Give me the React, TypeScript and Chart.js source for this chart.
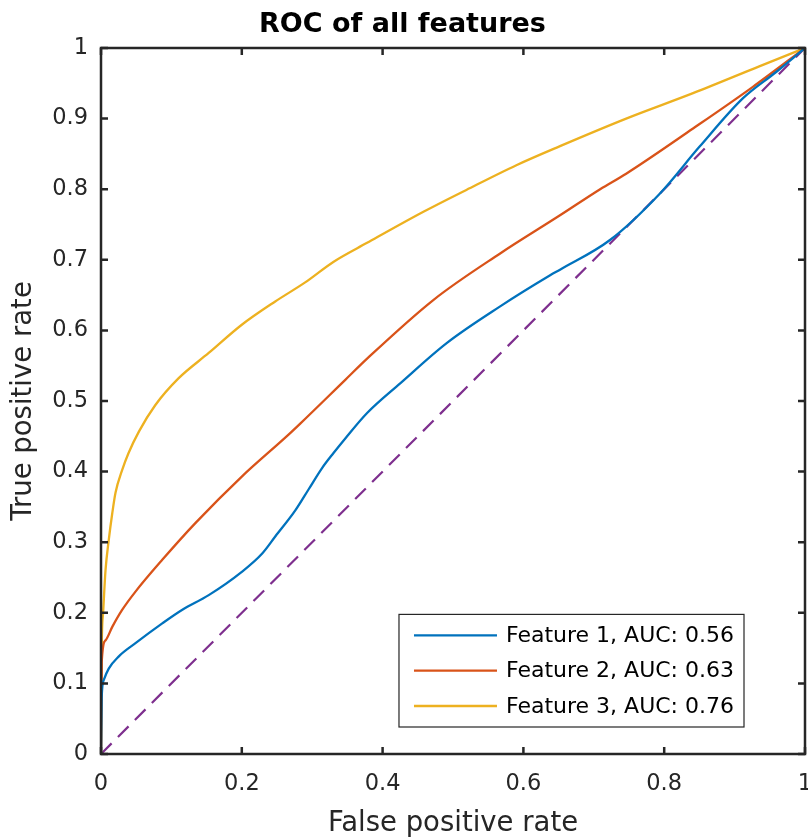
import React, { useEffect, useRef } from "react";
import { Chart, registerables } from "chart.js";

Chart.register(...registerables);

// ROC curve samples
const fpr1 = [0, 0.001, 0.004, 0.011, 0.025, 0.049, 0.087, 0.115, 0.153, 0.2, 0.229, 0.2475, 0.276, 0.295, 0.314, 0.33, 0.347, 0.378, 0.425, 0.491, 0.567, 0.638, 0.652, 0.723, 0.794, 0.85, 0.912, 0.959, 1];
const tpr1 = [0, 0.081, 0.105, 0.121, 0.138, 0.157, 0.185, 0.204, 0.225, 0.258, 0.284, 0.308, 0.345, 0.375, 0.405, 0.426, 0.447, 0.483, 0.525, 0.582, 0.634, 0.678, 0.686, 0.728, 0.794, 0.86, 0.929, 0.966, 1];

const fpr2 = [0, 0.001, 0.0064, 0.016, 0.03, 0.049, 0.087, 0.134, 0.2, 0.266, 0.283, 0.347, 0.378, 0.472, 0.567, 0.652, 0.709, 0.746, 0.841, 0.926, 1];
const tpr2 = [0, 0.13, 0.161, 0.18, 0.204, 0.23, 0.275, 0.327, 0.393, 0.452, 0.468, 0.53, 0.56, 0.643, 0.709, 0.763, 0.8, 0.822, 0.886, 0.945, 1];

const fpr3 = [0, 0.001, 0.003, 0.0064, 0.011, 0.016, 0.0206, 0.03, 0.039, 0.054, 0.077, 0.11, 0.153, 0.2, 0.2475, 0.29, 0.33, 0.378, 0.458, 0.519, 0.59, 0.652, 0.746, 0.841, 0.935, 1];
const tpr3 = [0, 0.15, 0.2, 0.26, 0.303, 0.341, 0.37, 0.402, 0.426, 0.457, 0.494, 0.532, 0.568, 0.608, 0.641, 0.668, 0.697, 0.724, 0.768, 0.799, 0.834, 0.861, 0.9, 0.936, 0.974, 1];

const chanceX = [0, 1];
const chanceY = [0, 1];

const seriesLabels = ["Feature 1, AUC: 0.56", "Feature 2, AUC: 0.63", "Feature 3, AUC: 0.76"];
const seriesColors = ["#0072BD", "#D95319", "#EDB120"];
const chanceColor = "#7E2F8E";

const xTickValues = [0, 0.2, 0.4, 0.6, 0.8, 1];
const yTickValues = [0, 0.1, 0.2, 0.3, 0.4, 0.5, 0.6, 0.7, 0.8, 0.9, 1];

const FONT = "'DejaVu Sans', sans-serif";
const AXIS = "#262626";

const toPoints = (xs: number[], ys: number[]) => xs.map((x, i) => ({ x, y: ys[i] }));

const fmt = (v: number) => String(Math.round(v * 10) / 10);

const boxPlugin = {
  id: "matlabBox",
  afterDatasetsDraw(chart: any) {
    const { ctx, chartArea, scales } = chart;
    const { left, right, top, bottom } = chartArea;
    const xs = scales.x;
    const ys = scales.y;
    ctx.save();
    ctx.strokeStyle = AXIS;
    ctx.lineWidth = 2.5;
    const tl = 7;
    ctx.beginPath();
    xTickValues.forEach((v) => {
      const px = xs.getPixelForValue(v);
      ctx.moveTo(px, bottom);
      ctx.lineTo(px, bottom - tl);
      ctx.moveTo(px, top);
      ctx.lineTo(px, top + tl);
    });
    yTickValues.forEach((v) => {
      const py = ys.getPixelForValue(v);
      ctx.moveTo(left, py);
      ctx.lineTo(left + tl, py);
      ctx.moveTo(right, py);
      ctx.lineTo(right - tl, py);
    });
    ctx.stroke();
    ctx.strokeRect(left, top, right - left, bottom - top);

    // legend inside the axes, bottom-right
    const items = chart.data.datasets.filter((d: any) => d.label);
    ctx.font = `22px ${FONT}`;
    const textW = Math.max(...items.map((d: any) => ctx.measureText(d.label).width));
    const padL = 15, lineLen = 83, gap = 9, padR = 10, rowH = 35.3, padV = 21;
    const boxW = padL + lineLen + gap + textW + padR;
    const boxH = padV * 2 + rowH * (items.length - 1);
    const bx = right - 61 - boxW;
    const by = bottom - 27 - boxH;
    ctx.fillStyle = "#ffffff";
    ctx.fillRect(bx, by, boxW, boxH);
    ctx.lineWidth = 1.2;
    ctx.strokeStyle = AXIS;
    ctx.strokeRect(bx, by, boxW, boxH);
    ctx.textBaseline = "middle";
    ctx.textAlign = "left";
    items.forEach((d: any, i: number) => {
      const cy = by + padV + i * rowH;
      ctx.strokeStyle = d.borderColor;
      ctx.lineWidth = 2.3;
      ctx.beginPath();
      ctx.moveTo(bx + padL, cy);
      ctx.lineTo(bx + padL + lineLen, cy);
      ctx.stroke();
      ctx.fillStyle = "#000000";
      ctx.fillText(d.label, bx + padL + lineLen + gap, cy + 1);
    });
    ctx.restore();
  },
};

export default function App() {
  const ref = useRef<HTMLCanvasElement | null>(null);

  useEffect(() => {
    if (!ref.current) return;
    const curves = [toPoints(fpr1, tpr1), toPoints(fpr2, tpr2), toPoints(fpr3, tpr3)];
    const chart = new Chart(ref.current, {
      type: "line",
      data: {
        datasets: [
          ...curves.map((data, i) => ({
            label: seriesLabels[i],
            data,
            borderColor: seriesColors[i],
            backgroundColor: seriesColors[i],
            borderWidth: 2.3,
            pointRadius: 0,
            cubicInterpolationMode: "monotone",
            fill: false,
          })),
          {
            label: "",
            data: toPoints(chanceX, chanceY),
            borderColor: chanceColor,
            backgroundColor: chanceColor,
            borderWidth: 2.2,
            borderDash: [15, 9],
            pointRadius: 0,
            fill: false,
          },
        ],
      },
      options: {
        animation: false,
        responsive: false,
        devicePixelRatio: 1,
        layout: { padding: { left: 0, right: 25, top: 0, bottom: 0 } },
        plugins: {
          legend: { display: false },
          tooltip: { enabled: false },
          title: {
            display: true,
            text: "ROC of all features",
            color: "#000000",
            font: { family: FONT, size: 27, weight: "bold", lineHeight: 1.2 },
            padding: { top: 9, bottom: 6.6 },
          },
        },
        scales: {
          x: {
            type: "linear",
            min: 0,
            max: 1,
            afterFit: (s: any) => { s.height = 85; },
            afterBuildTicks: (s: any) => { s.ticks = xTickValues.map((value) => ({ value })); },
            grid: { display: false, drawTicks: false },
            border: { display: false },
            ticks: {
              color: AXIS,
              padding: 17,
              maxRotation: 0,
              font: { family: FONT, size: 22.5 },
              callback: (v: any) => fmt(Number(v)),
            },
            title: {
              display: true,
              text: "False positive rate",
              color: AXIS,
              font: { family: FONT, size: 27.5, lineHeight: 1 },
              padding: { top: 0, bottom: 1 },
            },
          },
          y: {
            type: "linear",
            min: 0,
            max: 1,
            afterFit: (s: any) => { s.width = 101; },
            afterBuildTicks: (s: any) => { s.ticks = yTickValues.map((value) => ({ value })); },
            grid: { display: false, drawTicks: false },
            border: { display: false },
            ticks: {
              color: AXIS,
              padding: 13,
              font: { family: FONT, size: 22.5 },
              callback: (v: any) => fmt(Number(v)),
            },
            title: {
              display: true,
              text: "True positive rate",
              color: AXIS,
              font: { family: FONT, size: 27.5, lineHeight: 1 },
              padding: { top: 10, bottom: 0 },
            },
          },
        },
      },
      plugins: [boxPlugin],
    } as any);
    return () => chart.destroy();
  }, []);

  return (
    <div style={{ position: "fixed", left: 0, top: 0, width: 808, height: 839, overflow: "hidden", background: "#fff" }}>
      <canvas ref={ref} width={830} height={839} style={{ display: "block", width: 830, height: 839 }} />
    </div>
  );
}
